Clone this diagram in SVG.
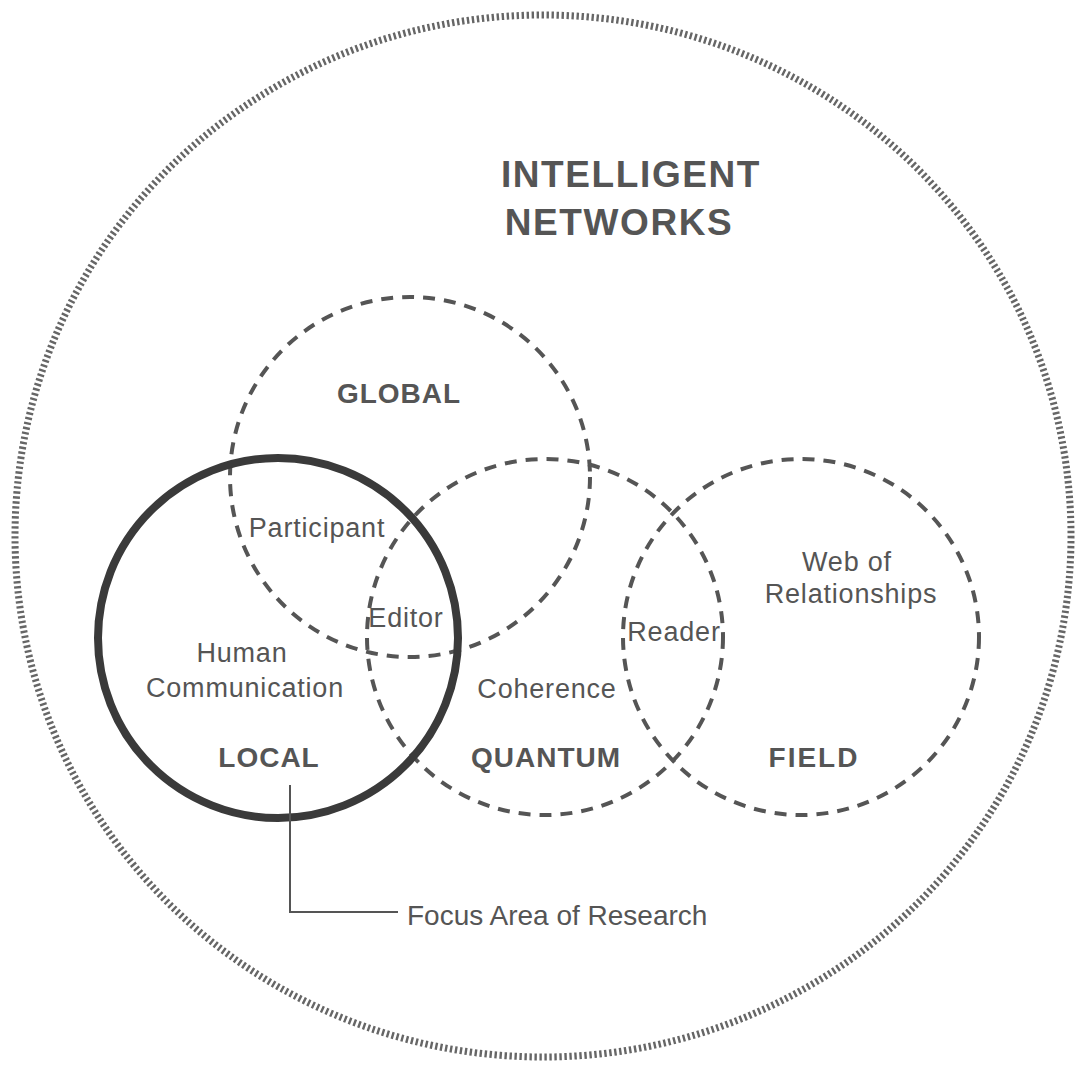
<svg xmlns="http://www.w3.org/2000/svg" width="1084" height="1072" viewBox="0 0 1084 1072">
<style>
.outer{fill:none;stroke:#666;stroke-width:7;stroke-dasharray:2.4 2.6}
.dash{fill:none;stroke:#555;stroke-width:4;stroke-dasharray:12 9}
.thick{fill:none;stroke:#3a3a3a;stroke-width:8}
.t{font-family:"Liberation Sans",Arial,sans-serif;fill:#555;text-anchor:middle;font-size:27px;letter-spacing:0.8px}
.b{font-weight:bold;font-size:28px;letter-spacing:1px}
.lead{fill:none;stroke:#555;stroke-width:2}
</style>
<rect width="1084" height="1072" fill="#fff"/>
<g id="intelligent-networks">
<ellipse class="outer" cx="543" cy="536" rx="528" ry="521"/>
<text class="t b" x="631" y="187" style="font-size:37px;letter-spacing:1.6px">INTELLIGENT</text>
<text class="t b" x="619" y="235" style="font-size:37px;letter-spacing:1.6px">NETWORKS</text>
</g>
<g id="global">
<circle class="dash" cx="410" cy="477" r="180"/>
<text class="t b" x="399" y="403">GLOBAL</text>
</g>
<g id="quantum">
<circle class="dash" cx="545" cy="637" r="178"/>
<text class="t" x="547" y="698">Coherence</text>
<text class="t b" x="546" y="767">QUANTUM</text>
</g>
<g id="field">
<circle class="dash" cx="801" cy="637" r="178"/>
<text class="t" x="847" y="571">Web of</text>
<text class="t" x="851" y="603">Relationships</text>
<text class="t b" x="814" y="767" style="letter-spacing:2px">FIELD</text>
</g>
<g id="local">
<circle class="thick" cx="278" cy="638" r="180"/>
<text class="t" x="242" y="662">Human</text>
<text class="t" x="245" y="697">Communication</text>
<text class="t b" x="269" y="767">LOCAL</text>
</g>
<g id="overlaps">
<text class="t" x="317" y="537">Participant</text>
<text class="t" x="406" y="627">Editor</text>
<text class="t" x="674" y="641">Reader</text>
</g>
<g id="connectors">
<polyline class="lead" points="290,785 290,912 398,912"/>
</g>
<g id="focus-label">
<text class="t" x="407" y="925" style="text-anchor:start;font-size:28px;letter-spacing:0">Focus Area of Research</text>
</g>
</svg>
